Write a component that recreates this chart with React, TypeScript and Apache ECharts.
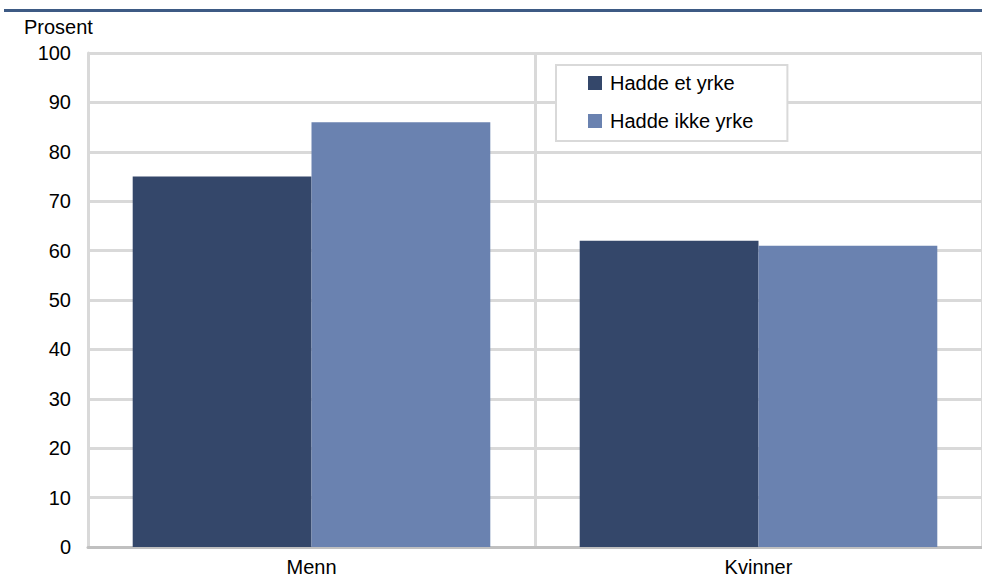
import React, { useEffect, useRef } from "react";
import * as echarts from "echarts";

const categories = ["Menn", "Kvinner"];
const seriesNames = ["Hadde et yrke", "Hadde ikke yrke"];
const hadYrke = [75, 62];
const noYrke = [86, 61];
const yTicks = { min: 0, max: 100, interval: 10 };
const yAxisTitle = "Prosent";

const FONT = "'Liberation Sans', Arial, sans-serif";
const FS = 20;

export default function App() {
  const ref = useRef<HTMLDivElement>(null);
  useEffect(() => {
    if (!ref.current) return;
    const chart = echarts.init(ref.current, undefined, { renderer: "svg" });
    chart.setOption({
      animation: false,
      textStyle: { fontFamily: FONT },
      graphic: [
        {
          type: "rect",
          shape: { x: 4, y: 9, width: 978, height: 3 },
          style: { fill: "#3d5a84" },
        },
        {
          type: "text",
          left: 24,
          top: 17,
          style: { text: yAxisTitle, fontSize: FS, fontFamily: FONT, fill: "#000" },
        },
      ],
      legend: {
        orient: "vertical",
        left: 556,
        top: 65,
        padding: [8, 34, 10, 32],
        itemGap: 18,
        itemWidth: 14,
        itemHeight: 14,
        icon: "rect",
        backgroundColor: "#fff",
        borderColor: "#d9d9d9",
        borderWidth: 2,
        textStyle: { fontSize: FS, color: "#000", fontFamily: FONT, padding: [0, 0, 0, 3] },
        data: seriesNames,
      },
      grid: { left: 88, right: 0, top: 53, bottom: 34, containLabel: false },
      xAxis: {
        type: "category",
        data: categories,
        axisLine: { show: true, lineStyle: { color: "#c0c0c0", width: 3 } },
        axisTick: { show: false },
        axisLabel: { fontSize: FS, color: "#000", margin: 10, fontFamily: FONT },
        splitLine: { show: true, interval: 0, lineStyle: { color: "#d9d9d9", width: 3 } },
      },
      yAxis: {
        type: "value",
        min: yTicks.min,
        max: yTicks.max,
        interval: yTicks.interval,
        axisLine: { show: true, lineStyle: { color: "#d9d9d9", width: 3 } },
        axisTick: { show: false },
        axisLabel: { fontSize: FS, color: "#000", margin: 17, fontFamily: FONT },
        splitLine: { show: true, lineStyle: { color: "#d9d9d9", width: 3 } },
      },
      series: [
        {
          name: seriesNames[0],
          type: "bar",
          data: hadYrke,
          barGap: "0%",
          barCategoryGap: "20%",
          itemStyle: { color: "#34476a" },
          z: 3,
        },
        {
          name: seriesNames[1],
          type: "bar",
          data: noYrke,
          barGap: "0%",
          barCategoryGap: "20%",
          itemStyle: { color: "#6a82b0" },
          z: 3,
        },
      ],
    });
    return () => chart.dispose();
  }, []);
  return (
    <div
      ref={ref}
      style={{ position: "fixed", left: 0, top: 0, width: 982, height: 581, background: "#fff" }}
    />
  );
}
